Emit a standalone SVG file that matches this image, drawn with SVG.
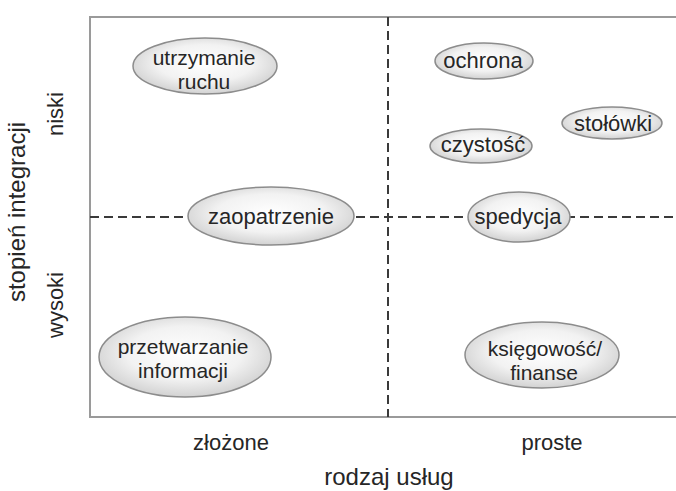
<svg xmlns="http://www.w3.org/2000/svg" width="676" height="491" viewBox="0 0 676 491">
<defs>
<radialGradient id="g" cx="0.5" cy="0.45" r="0.55">
<stop offset="0" stop-color="#ffffff"/>
<stop offset="0.6" stop-color="#f2f2f2"/>
<stop offset="1" stop-color="#d2d2d2"/>
</radialGradient>
</defs>
<style>
.frame{fill:none;stroke:#9a9a9a;stroke-width:2}
.dash{fill:none;stroke:#3a3a3a;stroke-width:2;stroke-dasharray:9 5}
.node ellipse{fill:url(#g);stroke:#8c8c8c;stroke-width:1.5}
text{font-family:"Liberation Sans",Arial,sans-serif;font-size:22px;fill:#262626;text-anchor:middle}
.two{font-size:21px}
.big{font-size:24px}
</style>
<rect width="676" height="491" fill="#ffffff"/>
<g id="frame">
<path class="frame" d="M676,17 H90 V417 H676"/>
</g>
<g id="connectors">
<line class="dash" x1="388" y1="17" x2="388" y2="417"/>
<line class="dash" x1="90" y1="217" x2="676" y2="217"/>
</g>
<g id="utrzymanie" class="node">
<ellipse cx="205" cy="66" rx="72" ry="28"/>
<text class="two" x="204" y="65">utrzymanie</text>
<text class="two" x="204" y="89">ruchu</text>
</g>
<g id="zaopatrzenie" class="node">
<ellipse cx="271" cy="216" rx="83" ry="29"/>
<text x="271" y="224">zaopatrzenie</text>
</g>
<g id="przetwarzanie" class="node">
<ellipse cx="185" cy="357" rx="86" ry="40"/>
<text class="two" x="183" y="354">przetwarzanie</text>
<text class="two" x="183" y="378">informacji</text>
</g>
<g id="ochrona" class="node">
<ellipse cx="484" cy="61" rx="49" ry="18"/>
<text x="483" y="68">ochrona</text>
</g>
<g id="stolowki" class="node">
<ellipse cx="612" cy="123" rx="50" ry="16"/>
<text x="613" y="131">stołówki</text>
</g>
<g id="czystosc" class="node">
<ellipse cx="481" cy="146" rx="51" ry="17"/>
<text x="483" y="152">czystość</text>
</g>
<g id="spedycja" class="node">
<ellipse cx="519" cy="217" rx="51" ry="25"/>
<text x="518" y="224">spedycja</text>
</g>
<g id="ksiegowosc" class="node">
<ellipse cx="542" cy="355" rx="77" ry="33"/>
<text class="two" x="545" y="356">księgowość/</text>
<text class="two" x="544" y="380">finanse</text>
</g>
<g id="labels">
<text x="231" y="450">złożone</text>
<text x="552" y="450">proste</text>
<text class="big" x="389" y="485">rodzaj usług</text>
<text class="big" transform="translate(25,212) rotate(-90)">stopień integracji</text>
<text transform="translate(63,114) rotate(-90)">niski</text>
<text transform="translate(63,305) rotate(-90)">wysoki</text>
</g>
</svg>
